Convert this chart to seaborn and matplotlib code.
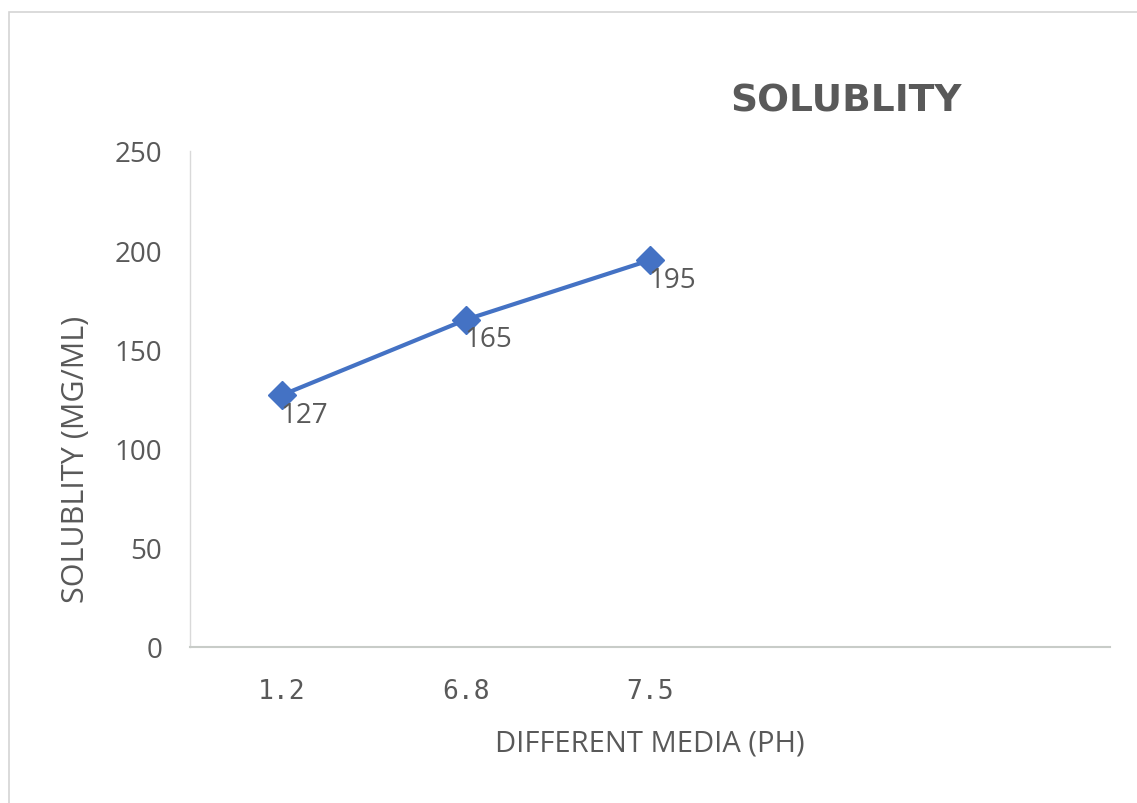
import matplotlib
matplotlib.use("Agg")
import matplotlib.pyplot as plt
import seaborn as sns
import pandas as pd
from matplotlib.patches import Rectangle

# Data
media_ph = ["1.2", "6.8", "7.5"]
solubility = [127, 165, 195]
n_slots = 5  # category axis keeps two empty slots on the right

sns.set_theme(style="white")
plt.rcParams["font.family"] = ["Open Sans", "DejaVu Sans"]

TEXT = "#595959"
BLUE = "#4472C4"

fig = plt.figure(figsize=(11.37, 8.04), dpi=100)
ax = fig.add_axes([190 / 1137, 1 - 648 / 804, 920 / 1137, 496 / 804])

df = pd.DataFrame({"pos": list(range(len(media_ph))), "sol": solubility, "ph": media_ph})
sns.lineplot(data=df, x="pos", y="sol", ax=ax, color=BLUE, linewidth=3,
             marker="D", markersize=14, markeredgecolor=BLUE, markeredgewidth=1)

# data labels, below-right of each point
for p, v in zip(df["pos"], df["sol"]):
    ax.annotate(f"{v}", (p, v), xytext=(-1, -4), textcoords="offset points",
                ha="left", va="top", fontsize=20, color=TEXT)

ax.set_xlim(-0.5, n_slots - 0.5)
ax.set_ylim(0, 250)
ax.set_yticks(range(0, 251, 50))
ax.set_xticks(df["pos"])
ax.set_xticklabels(media_ph, fontsize=19, color=TEXT, family=["DejaVu Sans Mono"])
ax.tick_params(axis="y", labelsize=20, labelcolor=TEXT, length=0, pad=20)
ax.tick_params(axis="x", length=0, pad=22)

ax.set_xlabel("DIFFERENT MEDIA (PH)", fontsize=21, color=TEXT)
ax.set_ylabel("SOLUBLITY (MG/ML)", fontsize=22, color=TEXT)
ax.xaxis.set_label_coords(0.5, -0.165)
ax.yaxis.set_label_coords(-0.108, 0.38)

for side in ["top", "right"]:
    ax.spines[side].set_visible(False)
ax.spines["left"].set_color("#D9D9D9")
ax.spines["bottom"].set_color("#C8CCC8")
ax.spines["left"].set_linewidth(1)
ax.spines["bottom"].set_linewidth(1.5)

fig.text(846 / 1137, 1 - 101 / 804, "SOLUBLITY", ha="center", va="center",
         fontsize=27, fontweight="bold", color=TEXT, family=["DejaVu Sans"])

# chart frame
fig.patches.append(Rectangle((9 / 1137, -0.01), 1.02, 1 - 13 / 804 + 0.01,
                             transform=fig.transFigure, fill=False,
                             edgecolor="#D4D4D4", linewidth=1.2))

fig.savefig("out.png", dpi=100)
